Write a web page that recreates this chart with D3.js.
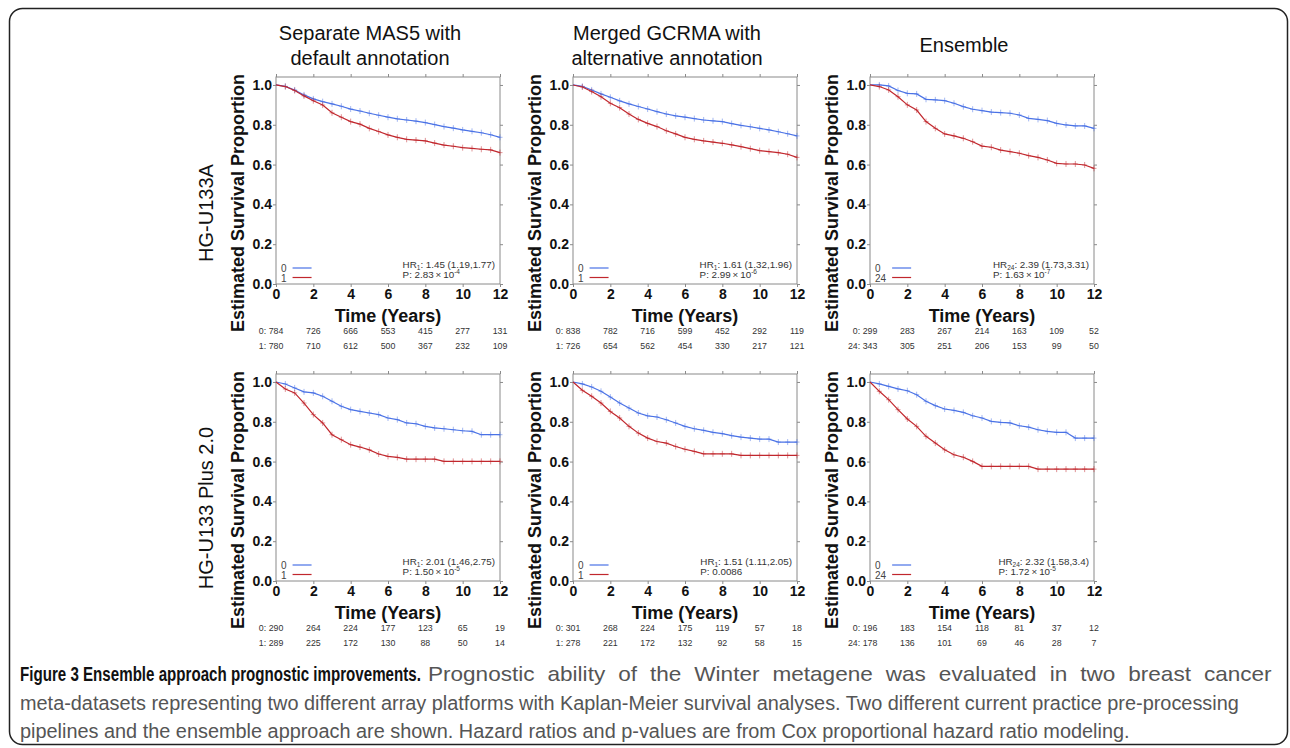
<!DOCTYPE html>
<html>
<head>
<meta charset="utf-8">
<script src="https://cdn.jsdelivr.net/npm/d3@7"></script>
<style>
  body { margin: 0; background: #fff; }
  svg { display: block; font-family: "Liberation Sans", Arial, sans-serif; }
</style>
</head>
<body>
<div id="vis"></div>
<script>
// frame of the page
const FRAME_WIDTH = 1290;
const FRAME_HEIGHT = 748;

// time grid (years) used for every curve
const TIMES = [0, 0.5, 1, 1.5, 2, 2.5, 3, 3.5, 4, 4.5, 5, 5.5, 6, 6.5, 7, 7.5, 8, 8.5, 9, 9.5, 10, 10.5, 11, 11.5, 12];
const X_TICKS = [0, 2, 4, 6, 8, 10, 12];
const Y_TICKS = [0, 0.2, 0.4, 0.6, 0.8, 1.0];

const COL_TITLES = [["Separate MAS5 with", "default annotation"], ["Merged GCRMA with", "alternative annotation"], ["Ensemble"]];
const ROW_TITLES = ["HG-U133A", "HG-U133 Plus 2.0"];

// survival estimates, group 0 (blue) and group 1/24 (red)
const U133A_MAS5_LOW  = [1.0, 0.993, 0.975, 0.950, 0.930, 0.916, 0.905, 0.893, 0.879, 0.869, 0.858, 0.848, 0.838, 0.830, 0.824, 0.818, 0.811, 0.801, 0.791, 0.783, 0.774, 0.767, 0.760, 0.750, 0.737];
const U133A_MAS5_HIGH = [1.0, 0.992, 0.972, 0.945, 0.921, 0.899, 0.860, 0.838, 0.816, 0.803, 0.782, 0.766, 0.749, 0.737, 0.727, 0.723, 0.719, 0.708, 0.698, 0.692, 0.685, 0.681, 0.677, 0.674, 0.660];
const U133A_GCRMA_LOW  = [1.0, 0.993, 0.975, 0.955, 0.938, 0.920, 0.905, 0.892, 0.879, 0.866, 0.854, 0.845, 0.838, 0.831, 0.824, 0.820, 0.816, 0.806, 0.797, 0.790, 0.782, 0.774, 0.765, 0.755, 0.744];
const U133A_GCRMA_HIGH = [1.0, 0.990, 0.967, 0.941, 0.908, 0.886, 0.854, 0.827, 0.807, 0.791, 0.770, 0.754, 0.737, 0.727, 0.719, 0.713, 0.707, 0.699, 0.690, 0.680, 0.670, 0.665, 0.660, 0.652, 0.636];
const U133A_ENS_LOW  = [1.0, 1.0, 0.995, 0.972, 0.958, 0.955, 0.928, 0.925, 0.921, 0.908, 0.891, 0.878, 0.871, 0.864, 0.861, 0.858, 0.849, 0.832, 0.827, 0.821, 0.807, 0.799, 0.794, 0.794, 0.782];
const U133A_ENS_HIGH = [1.0, 0.992, 0.975, 0.941, 0.900, 0.874, 0.816, 0.782, 0.754, 0.744, 0.732, 0.715, 0.693, 0.687, 0.673, 0.665, 0.657, 0.645, 0.636, 0.623, 0.606, 0.603, 0.603, 0.598, 0.581];
const PLUS2_MAS5_LOW  = [1.0, 0.990, 0.970, 0.950, 0.945, 0.928, 0.903, 0.878, 0.861, 0.852, 0.844, 0.836, 0.819, 0.811, 0.794, 0.790, 0.777, 0.769, 0.765, 0.760, 0.755, 0.752, 0.735, 0.735, 0.735];
const PLUS2_MAS5_HIGH = [1.0, 0.965, 0.945, 0.894, 0.836, 0.794, 0.735, 0.710, 0.685, 0.673, 0.659, 0.638, 0.626, 0.621, 0.612, 0.612, 0.612, 0.612, 0.601, 0.601, 0.601, 0.601, 0.601, 0.601, 0.601];
const PLUS2_GCRMA_LOW  = [1.0, 0.990, 0.975, 0.953, 0.924, 0.894, 0.869, 0.844, 0.830, 0.824, 0.810, 0.794, 0.777, 0.765, 0.757, 0.747, 0.740, 0.730, 0.723, 0.718, 0.713, 0.713, 0.698, 0.698, 0.698];
const PLUS2_GCRMA_HIGH = [1.0, 0.958, 0.928, 0.894, 0.852, 0.819, 0.777, 0.743, 0.718, 0.701, 0.693, 0.676, 0.662, 0.651, 0.639, 0.639, 0.639, 0.639, 0.631, 0.631, 0.631, 0.631, 0.631, 0.631, 0.631];
const PLUS2_ENS_LOW  = [1.0, 0.990, 0.978, 0.965, 0.956, 0.936, 0.903, 0.881, 0.864, 0.857, 0.847, 0.830, 0.819, 0.802, 0.797, 0.794, 0.780, 0.773, 0.760, 0.752, 0.747, 0.747, 0.718, 0.718, 0.718];
const PLUS2_ENS_HIGH = [1.0, 0.953, 0.911, 0.861, 0.814, 0.777, 0.727, 0.693, 0.659, 0.634, 0.622, 0.601, 0.576, 0.576, 0.576, 0.576, 0.576, 0.576, 0.562, 0.562, 0.562, 0.562, 0.562, 0.562, 0.562];

// numbers at risk at 0,2,...,12 years
const RISK_U133A_MAS5  = [[784, 726, 666, 553, 415, 277, 131], [780, 710, 612, 500, 367, 232, 109]];
const RISK_U133A_GCRMA = [[838, 782, 716, 599, 452, 292, 119], [726, 654, 562, 454, 330, 217, 121]];
const RISK_U133A_ENS   = [[299, 283, 267, 214, 163, 109, 52], [343, 305, 251, 206, 153, 99, 50]];
const RISK_PLUS2_MAS5  = [[290, 264, 224, 177, 123, 65, 19], [289, 225, 172, 130, 88, 50, 14]];
const RISK_PLUS2_GCRMA = [[301, 268, 224, 175, 119, 57, 18], [278, 221, 172, 132, 92, 58, 15]];
const RISK_PLUS2_ENS   = [[196, 183, 154, 118, 81, 37, 12], [178, 136, 101, 69, 46, 28, 7]];

// group names, hazard ratio and p-value texts
const GROUPS_PLAIN = ["0", "1"];
const GROUPS_ENS = ["0", "24"];
const HR_TEXT = [": 1.45 (1.19,1.77)", ": 1.61 (1.32,1.96)", ": 2.39 (1.73,3.31)",
                 ": 2.01 (1.46,2.75)", ": 1.51 (1.11,2.05)", ": 2.32 (1.58,3.4)"];
const P_MANTISSA = ["2.83", "2.99", "1.63", "1.50", "0.0086", "1.72"];
const P_EXPONENT = ["-4", "-6", "-7", "-5", null, "-5"];

const CAPTION_BOLD = "Figure 3 Ensemble approach prognostic improvements.";
const CAPTION_LINES = [
  "Prognostic ability of the Winter metagene was evaluated in two breast cancer",
  "meta-datasets representing two different array platforms with Kaplan-Meier survival analyses. Two different current practice pre-processing",
  "pipelines and the ensemble approach are shown. Hazard ratios and p-values are from Cox proportional hazard ratio modeling."
];

const BLUE = "#4a72e6";
const RED = "#c1272d";

// panel layout
const PLOT_LEFT = [276, 573, 870];
const PLOT_BOTTOM = [284, 581];
const PLOT_W = 224;
const PLOT_H = 207;   // 0 .. 1.04

const PANELS = [
  {low: U133A_MAS5_LOW, high: U133A_MAS5_HIGH, risk: RISK_U133A_MAS5, groups: GROUPS_PLAIN},
  {low: U133A_GCRMA_LOW, high: U133A_GCRMA_HIGH, risk: RISK_U133A_GCRMA, groups: GROUPS_PLAIN},
  {low: U133A_ENS_LOW, high: U133A_ENS_HIGH, risk: RISK_U133A_ENS, groups: GROUPS_ENS},
  {low: PLUS2_MAS5_LOW, high: PLUS2_MAS5_HIGH, risk: RISK_PLUS2_MAS5, groups: GROUPS_PLAIN},
  {low: PLUS2_GCRMA_LOW, high: PLUS2_GCRMA_HIGH, risk: RISK_PLUS2_GCRMA, groups: GROUPS_PLAIN},
  {low: PLUS2_ENS_LOW, high: PLUS2_ENS_HIGH, risk: RISK_PLUS2_ENS, groups: GROUPS_ENS}
];

const SVG = d3.select("#vis")
  .append("svg")
    .attr("width", FRAME_WIDTH)
    .attr("height", FRAME_HEIGHT);

// rounded outer border
SVG.append("rect")
  .attr("x", 9.5).attr("y", 8.5)
  .attr("width", 1278).attr("height", 736)
  .attr("rx", 13).attr("ry", 13)
  .attr("fill", "none")
  .attr("stroke", "#222")
  .attr("stroke-width", 1.5);

// column titles
COL_TITLES.forEach((lines, c) => {
  const cx = PLOT_LEFT[c] + 94;
  const base = lines.length === 1 ? 52 : 40;
  lines.forEach((ln, i) => {
    SVG.append("text")
      .attr("x", cx).attr("y", base + i * 25)
      .attr("text-anchor", "middle")
      .attr("font-size", "20px")
      .attr("fill", "#111")
      .text(ln);
  });
});

// row titles
const ROW_CENTER = [213, 508];
ROW_TITLES.forEach((t, r) => {
  SVG.append("text")
    .attr("transform", "translate(206," + ROW_CENTER[r] + ") rotate(-90)")
    .attr("text-anchor", "middle")
    .attr("dy", "0.35em")
    .attr("font-size", "20px")
    .attr("fill", "#111")
    .text(t);
});

function drawPanel(p, idx) {
  const row = Math.floor(idx / 3);
  const col = idx % 3;
  const g = SVG.append("g")
    .attr("transform", "translate(" + PLOT_LEFT[col] + "," + (PLOT_BOTTOM[row] - PLOT_H) + ")");

  const X_SCALE = d3.scaleLinear().domain([0, 12]).range([0, PLOT_W]);
  const Y_SCALE = d3.scaleLinear().domain([0, 1.04]).range([PLOT_H, 0]);

  // box
  g.append("rect")
    .attr("x", 0).attr("y", 0)
    .attr("width", PLOT_W).attr("height", PLOT_H)
    .attr("fill", "none")
    .attr("stroke", "#8a8a8a")
    .attr("stroke-width", 1);

  // axes
  const xAxis = g.append("g")
    .attr("transform", "translate(0," + PLOT_H + ")")
    .call(d3.axisBottom(X_SCALE).tickValues(X_TICKS).tickSize(3).tickPadding(2));
  const yAxis = g.append("g")
    .call(d3.axisLeft(Y_SCALE).tickValues(Y_TICKS).tickSize(3).tickPadding(1)
          .tickFormat(d3.format(".1f")));
  g.append("g")
    .call(d3.axisTop(X_SCALE).tickValues(X_TICKS).tickSize(3).tickFormat(""));
  g.append("g")
    .attr("transform", "translate(" + PLOT_W + ",0)")
    .call(d3.axisRight(Y_SCALE).tickValues(Y_TICKS).tickSize(3).tickFormat(""));

  g.selectAll(".domain").remove();
  g.selectAll(".tick line").attr("stroke", "#8a8a8a");
  [xAxis, yAxis].forEach((a) => {
    a.selectAll("text")
      .attr("font-family", "'Liberation Sans', Arial, sans-serif")
      .attr("font-size", "14px")
      .attr("font-weight", "bold")
      .attr("fill", "#111");
  });

  // axis titles
  g.append("text")
    .attr("x", PLOT_W / 2).attr("y", PLOT_H + 38)
    .attr("text-anchor", "middle")
    .attr("font-size", "18px")
    .attr("font-weight", "bold")
    .attr("fill", "#111")
    .text("Time (Years)");

  g.append("text")
    .attr("transform", "translate(-38," + (PLOT_H - 81) + ") rotate(-90)")
    .attr("text-anchor", "middle")
    .attr("dy", "0.35em")
    .attr("font-size", "18px")
    .attr("font-weight", "bold")
    .attr("fill", "#111")
    .text("Estimated Survival Proportion");

  // curves with censor marks
  const line = d3.line()
    .x((d, i) => X_SCALE(TIMES[i]))
    .y((d) => Y_SCALE(d));

  [[p.low, BLUE], [p.high, RED]].forEach(([vals, color]) => {
    const marks = g.append("g")
      .attr("stroke", color)
      .attr("stroke-opacity", 0.5)
      .attr("stroke-width", 1);
    vals.forEach((v, i) => {
      if (TIMES[i] < 0.5) return;
      const cx = X_SCALE(TIMES[i]);
      const cy = Y_SCALE(v);
      marks.append("line").attr("x1", cx - 2.5).attr("x2", cx + 2.5).attr("y1", cy).attr("y2", cy);
      marks.append("line").attr("x1", cx).attr("x2", cx).attr("y1", cy - 3).attr("y2", cy + 3);
    });
    g.append("path")
      .datum(vals)
      .attr("d", line)
      .attr("fill", "none")
      .attr("stroke", color)
      .attr("stroke-width", 1.2);
  });

  // legend
  const labW = [];
  p.groups.forEach((name, i) => {
    const t = g.append("text")
      .attr("x", 5).attr("y", PLOT_H - 12 + i * 9.5)
      .attr("font-size", "10px")
      .attr("fill", "#444")
      .text(name);
    labW.push(t.node().getComputedTextLength());
  });
  const lx = 5 + d3.max(labW) + 6;
  [BLUE, RED].forEach((c, i) => {
    g.append("line")
      .attr("x1", lx).attr("x2", lx + 19)
      .attr("y1", PLOT_H - 16 + i * 9.5).attr("y2", PLOT_H - 16 + i * 9.5)
      .attr("stroke", c).attr("stroke-width", 1.2);
  });

  // hazard ratio and p-value
  const hr = g.append("text")
    .attr("x", PLOT_W - 5).attr("y", PLOT_H - 16)
    .attr("text-anchor", "end")
    .attr("font-size", "9.8px")
    .attr("fill", "#333");
  hr.append("tspan").text("HR");
  hr.append("tspan").attr("font-size", "6.5px").attr("dy", 2).text(p.groups[1]);
  hr.append("tspan").attr("dy", -2).text(HR_TEXT[idx]);
  const hrStart = PLOT_W - 5 - hr.node().getComputedTextLength();

  const pt = g.append("text")
    .attr("x", hrStart).attr("y", PLOT_H - 6.5)
    .attr("font-size", "9.8px")
    .attr("fill", "#333");
  if (P_EXPONENT[idx]) {
    pt.append("tspan").text("P: " + P_MANTISSA[idx] + "\u2009\u00d7\u200910");
    pt.append("tspan").attr("font-size", "6.5px").attr("dy", -4).text(P_EXPONENT[idx]);
  } else {
    pt.append("tspan").text("P: " + P_MANTISSA[idx]);
  }

  // numbers at risk
  p.risk.forEach((vals, r) => {
    const ty = PLOT_H + 50 + r * 15;
    let firstW = 0;
    vals.forEach((v, i) => {
      const t = g.append("text")
        .attr("x", X_SCALE(X_TICKS[i])).attr("y", ty)
        .attr("text-anchor", "middle")
        .attr("font-size", "8.8px")
        .attr("fill", "#333")
        .text(v);
      if (i === 0) firstW = t.node().getComputedTextLength();
    });
    g.append("text")
      .attr("x", X_SCALE(0) - firstW / 2 - 2.5).attr("y", ty)
      .attr("text-anchor", "end")
      .attr("font-size", "8.8px")
      .attr("fill", "#333")
      .text(p.groups[r] + ":");
  });
}

PANELS.forEach(drawPanel);

// caption: the printed font is condensed, so the runs are squeezed
// horizontally; the first line is justified with slightly wider glyphs and gaps
const CAP_FONT = "'Liberation Sans Narrow', 'Liberation Sans', Arial, sans-serif";
const CAP_Y = [681, 710, 738];

function captionRun(txt, x, y, bold, color) {
  const g = SVG.append("g");
  const t = g.append("text")
    .attr("x", 0).attr("y", 0)
    .attr("font-family", CAP_FONT)
    .attr("font-size", "21px")
    .attr("font-weight", bold ? "bold" : "normal")
    .attr("fill", color)
    .text(txt);
  return {g: g, t: t, w: t.node().getComputedTextLength(), x: x, y: y};
}

const bold = captionRun(CAPTION_BOLD, 20, CAP_Y[0], true, "#111");
bold.g.attr("transform", "translate(20," + CAP_Y[0] + ") scale(" + (401 / bold.w) + ",1)");

const runs = [
  captionRun(CAPTION_LINES[0], 428, CAP_Y[0], false, "#555"),
  captionRun(CAPTION_LINES[1], 20, CAP_Y[1], false, "#555"),
  captionRun(CAPTION_LINES[2], 20, CAP_Y[2], false, "#555")
];
const SX = 1220 / runs[1].w;   // common squeeze from the full second line
runs[1].g.attr("transform", "translate(20," + CAP_Y[1] + ") scale(" + SX + ",1)");
runs[2].g.attr("transform", "translate(20," + CAP_Y[2] + ") scale(" + SX + ",1)");

// first line: share the extra width between glyph width and word gaps
const first = runs[0];
const ratio = 844 / (first.w * SX);
const sx1 = SX * (1 + 0.55 * (ratio - 1));
const gaps = CAPTION_LINES[0].split(" ").length - 1;
const extra = (844 / sx1 - first.w) / gaps;
first.g.attr("transform", "translate(428," + CAP_Y[0] + ") scale(" + sx1 + ",1)");
if (extra > 0) first.t.attr("word-spacing", extra);
</script>
</body>
</html>
